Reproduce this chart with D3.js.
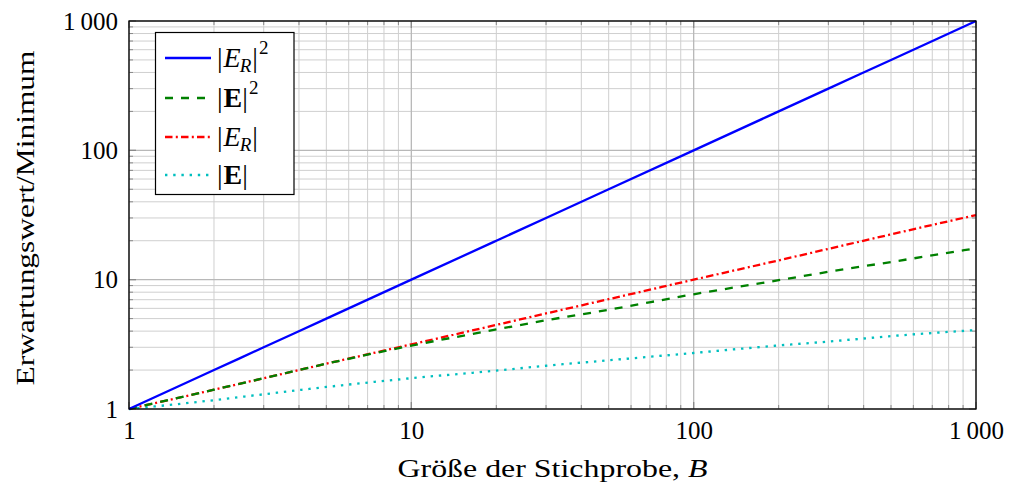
<!DOCTYPE html>
<html><head><meta charset="utf-8">
<script src="https://cdn.jsdelivr.net/npm/d3@7"></script>
<style>
html,body{margin:0;padding:0;background:#fff;}
svg text{font-family:"Liberation Serif","DejaVu Serif",serif;fill:#000;}
</style></head>
<body>
<svg id="chart" width="1010" height="488"></svg>
<script>
// ---- data ----
const sampleSize = [1, 2, 3, 5, 10, 20, 30, 50, 100, 200, 300, 500, 1000];
const ER2 = [1, 2, 3, 5, 10, 20, 30, 50, 100, 200, 300, 500, 1000];
const E2  = [1, 1.41, 1.73, 2.24, 3.09, 4.12, 4.85, 5.85, 7.71, 9.9, 11.5, 13.7, 17.5];
const ER  = [1, 1.41, 1.73, 2.24, 3.16, 4.47, 5.48, 7.07, 10, 14.1, 17.3, 22.4, 31.6];
const E1  = [1, 1.17, 1.30, 1.48, 1.73, 1.98, 2.16, 2.38, 2.71, 3.10, 3.32, 3.66, 4.08];
const xTickValues = [1, 10, 100, 1000];
const xTickLabels = ["1", "10", "100", "1\u2009000"];
const yTickValues = [1, 10, 100, 1000];
const yTickLabels = ["1", "10", "100", "1\u2009000"];
const xTitle = "Größe der Stichprobe, ";
const yTitle = "Erwartungswert/Minimum";

const svg = d3.select("#chart");
const L = 129, R = 976, T = 21, Bt = 409;
const x = d3.scaleLog().domain([1, 1000]).range([L, R]);
const y = d3.scaleLog().domain([1, 1000]).range([Bt, T]);

const minors = [];
for (let d = 1; d < 1000; d *= 10) for (let k = 2; k <= 9; k++) minors.push(d * k);

const grid = svg.append("g");
grid.selectAll(".mx").data(minors).enter().append("line")
  .attr("x1", d => x(d)).attr("x2", d => x(d)).attr("y1", T).attr("y2", Bt)
  .attr("stroke", "#cfcfcf").attr("stroke-width", 1);
grid.selectAll(".my").data(minors).enter().append("line")
  .attr("y1", d => y(d)).attr("y2", d => y(d)).attr("x1", L).attr("x2", R)
  .attr("stroke", "#cfcfcf").attr("stroke-width", 1);
grid.selectAll(".Mx").data(xTickValues).enter().append("line")
  .attr("x1", d => x(d)).attr("x2", d => x(d)).attr("y1", T).attr("y2", Bt)
  .attr("stroke", "#b8b8b8").attr("stroke-width", 1.3);
grid.selectAll(".My").data(yTickValues).enter().append("line")
  .attr("y1", d => y(d)).attr("y2", d => y(d)).attr("x1", L).attr("x2", R)
  .attr("stroke", "#b8b8b8").attr("stroke-width", 1.3);

const tk = svg.append("g").attr("stroke", "#8a8a8a");
minors.forEach(d => {
  tk.append("line").attr("x1", x(d)).attr("x2", x(d)).attr("y1", Bt).attr("y2", Bt - 4).attr("stroke-width", 1);
  tk.append("line").attr("x1", x(d)).attr("x2", x(d)).attr("y1", T).attr("y2", T + 4).attr("stroke-width", 1);
  tk.append("line").attr("y1", y(d)).attr("y2", y(d)).attr("x1", L).attr("x2", L + 4).attr("stroke-width", 1);
  tk.append("line").attr("y1", y(d)).attr("y2", y(d)).attr("x1", R).attr("x2", R - 4).attr("stroke-width", 1);
});
xTickValues.forEach(d => {
  tk.append("line").attr("x1", x(d)).attr("x2", x(d)).attr("y1", Bt).attr("y2", Bt - 7).attr("stroke-width", 1.3);
  tk.append("line").attr("x1", x(d)).attr("x2", x(d)).attr("y1", T).attr("y2", T + 7).attr("stroke-width", 1.3);
});
yTickValues.forEach(d => {
  tk.append("line").attr("y1", y(d)).attr("y2", y(d)).attr("x1", L).attr("x2", L + 7).attr("stroke-width", 1.3);
  tk.append("line").attr("y1", y(d)).attr("y2", y(d)).attr("x1", R).attr("x2", R - 7).attr("stroke-width", 1.3);
});

const xAxis = d3.axisBottom(x).tickValues(xTickValues).tickFormat((d, i) => xTickLabels[i]).tickSize(0).tickPadding(0);
const gx = svg.append("g").attr("transform", `translate(0,${Bt})`).call(xAxis);
gx.select(".domain").remove();
gx.selectAll("text").attr("font-size", 25).attr("font-family", "Liberation Serif").attr("dy", null).attr("y", 30).attr("fill", "#000");

const yAxis = d3.axisLeft(y).tickValues(yTickValues).tickFormat((d, i) => yTickLabels[i]).tickSize(0).tickPadding(0);
const gy = svg.append("g").attr("transform", `translate(${L},0)`).call(yAxis);
gy.select(".domain").remove();
gy.selectAll("text").attr("font-size", 25).attr("font-family", "Liberation Serif").attr("x", -11).attr("dy", "0.33em").attr("fill", "#000");

const series = [
  {vals: ER2, color: "#0000ff", dash: null},
  {vals: E2, color: "#008000", dash: "8,8"},
  {vals: ER, color: "#ff0000", dash: "7.5,3.3,2,3.2"},
  {vals: E1, color: "#00bfbf", dash: "2.4,5.8"}
];
const line = d3.line().x(d => x(d[0])).y(d => y(d[1])).curve(d3.curveMonotoneX);
svg.append("clipPath").attr("id", "pc").append("rect")
  .attr("x", L).attr("y", T - 2).attr("width", R - L + 2).attr("height", Bt - T + 4);
series.slice().reverse().forEach(s => {
  svg.append("path").datum(sampleSize.map((b, i) => [b, s.vals[i]]))
    .attr("d", line).attr("fill", "none").attr("stroke", s.color)
    .attr("stroke-width", 2.3).attr("stroke-dasharray", s.dash)
    .attr("clip-path", "url(#pc)");
});

svg.append("rect").attr("x", L).attr("y", T).attr("width", R - L).attr("height", Bt - T)
  .attr("fill", "none").attr("stroke", "#000").attr("stroke-width", 1.3);

const xt = svg.append("text").attr("x", (L + R) / 2).attr("y", 477).attr("text-anchor", "middle")
  .attr("font-size", 25).attr("textLength", 310).attr("lengthAdjust", "spacingAndGlyphs");
xt.append("tspan").text(xTitle);
xt.append("tspan").attr("font-style", "italic").text("B");

svg.append("text").attr("transform", `translate(34,${(T + Bt) / 2 + 3}) rotate(-90)`)
  .attr("text-anchor", "middle").attr("font-size", 25)
  .attr("textLength", 335).attr("lengthAdjust", "spacingAndGlyphs").text(yTitle);

const lg = svg.append("g");
lg.append("rect").attr("x", 155.5).attr("y", 32.5).attr("width", 138.5).attr("height", 162)
  .attr("fill", "#fff").attr("stroke", "#000").attr("stroke-width", 1.2);
const rows = [58, 98, 137, 175];
const labels = [
  [{t: "|"}, {t: "E", it: true}, {t: "R", it: true, sub: true}, {t: "|", up: true}, {t: "2", sup: true}],
  [{t: "|"}, {t: "E", bold: true}, {t: "|"}, {t: "2", sup: true}],
  [{t: "|"}, {t: "E", it: true}, {t: "R", it: true, sub: true}, {t: "|", up: true}],
  [{t: "|"}, {t: "E", bold: true}, {t: "|"}]
];
series.forEach((s, i) => {
  lg.append("line").attr("x1", 165).attr("x2", 211).attr("y1", rows[i]).attr("y2", rows[i])
    .attr("stroke", s.color).attr("stroke-width", 2.3).attr("stroke-dasharray", s.dash);
  const t = lg.append("text").attr("x", 217).attr("y", rows[i] + 9).attr("font-size", 28);
  labels[i].forEach(p => {
    const ts = t.append("tspan").text(p.t);
    if (p.it) ts.attr("font-style", "italic").attr("dx", 1);
    if (p.bold) ts.attr("font-weight", "bold").attr("dx", 1);
    if (p.sub) ts.attr("font-size", 19).attr("dy", 5).attr("dx", -1);
    if (p.up) ts.attr("dy", -5).attr("dx", 1);
    if (p.sup) ts.attr("font-size", 19).attr("dy", -13).attr("dx", 1);
  });
});
</script>
</body></html>
